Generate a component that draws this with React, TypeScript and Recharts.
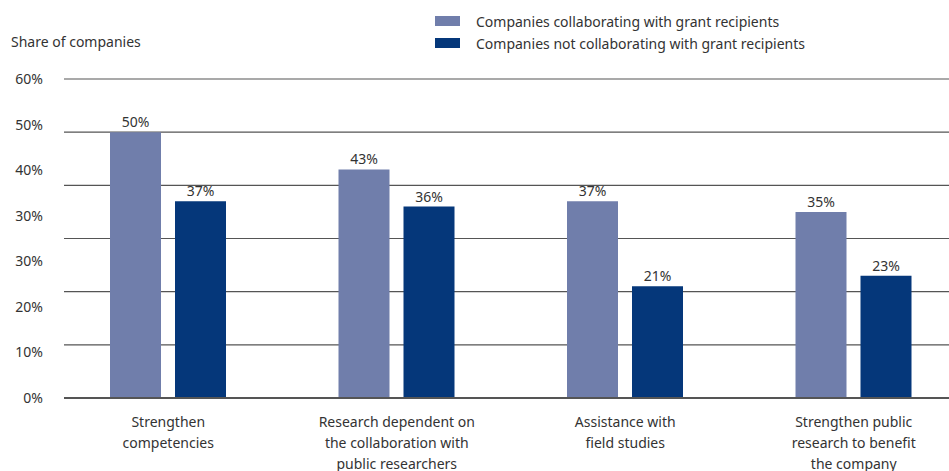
import React from "react";
import {
  BarChart,
  Bar,
  XAxis,
  YAxis,
  CartesianGrid,
  LabelList,
} from "recharts";

// categories (line breaks kept as in the figure)
const categories = [
  "Strengthen\ncompetencies",
  "Research dependent on\nthe collaboration with\npublic researchers",
  "Assistance with\nfield studies",
  "Strengthen public\nresearch to benefit\nthe company",
];

const collaborating = [50, 43, 37, 35];
const notCollaborating = [37, 36, 21, 23];

// the printed axis labels (as they appear in the source, incl. the repeated 30%)
const yTickLabels = ["0%", "10%", "20%", "30%", "30%", "40%", "50%", "60%"];
const gridTicks = [0, 10, 20, 30, 40, 50, 60];

const seriesNames = [
  "Companies collaborating with grant recipients",
  "Companies not collaborating with grant recipients",
];
const LIGHT = "#707eab";
const DARK = "#05377a";
const TEXT = "#333333";
const FONT = "'Noto Sans', sans-serif";

const data = categories.map((name, i) => ({
  name,
  collab: collaborating[i],
  notCollab: notCollaborating[i],
}));

const CategoryTick = (props: any) => {
  const { x, payload } = props;
  const lines = String(payload.value).split("\n");
  return (
    <text
      x={x}
      y={0}
      textAnchor="middle"
      fill={TEXT}
      fontSize={14}
      fontFamily={FONT}
    >
      {lines.map((line, i) => (
        <tspan key={i} x={x} y={427 + i * 21}>
          {line}
        </tspan>
      ))}
    </text>
  );
};

const LabelTick = (props: any) => {
  const { y, payload } = props;
  return (
    <text
      x={43}
      y={y}
      dy={5}
      textAnchor="end"
      fill={TEXT}
      fontSize={14}
      fontFamily={FONT}
    >
      {yTickLabels[payload.value]}
    </text>
  );
};

export default function App() {
  return (
    <div
      style={{
        position: "absolute",
        left: 0,
        top: 0,
        width: 949,
        height: 471,
        overflow: "hidden",
        background: "#fff",
        fontFamily: FONT,
      }}
    >
      <div
        style={{
          position: "absolute",
          left: 11,
          top: 32,
          fontSize: 14,
          color: TEXT,
        }}
      >
        Share of companies
      </div>

      {/* legend */}
      <div
        style={{
          position: "absolute",
          left: 435,
          top: 10,
          fontSize: 14,
          color: TEXT,
        }}
      >
        {seriesNames.map((s, i) => (
          <div
            key={s}
            style={{ display: "flex", alignItems: "center", height: 22 }}
          >
            <span
              style={{
                display: "inline-block",
                width: 25,
                height: 10,
                background: i === 0 ? LIGHT : DARK,
                marginRight: 16,
              }}
            />
            {s}
          </div>
        ))}
      </div>

      <div style={{ position: "absolute", left: 0, top: 0 }}>
        <BarChart
          width={968}
          height={471}
          data={data}
          margin={{ top: 79, right: 0, bottom: 0, left: 0 }}
          barSize={51}
          barGap={14}
        >
          <CartesianGrid
            vertical={false}
            stroke="#555"
            strokeWidth={1.2}
            yAxisId={0}
          />
          <XAxis
            dataKey="name"
            height={73}
            padding={{ left: -10, right: 0 }}
            tickLine={false}
            axisLine={{ stroke: "#555", strokeWidth: 2 }}
            tick={<CategoryTick />}
            interval={0}
          />
          <YAxis
            yAxisId={0}
            hide
            type="number"
            domain={[0, 60]}
            ticks={gridTicks}
            allowDataOverflow
          />
          <YAxis
            yAxisId="lab"
            type="number"
            domain={[0, 7]}
            ticks={[0, 1, 2, 3, 4, 5, 6, 7]}
            width={64}
            axisLine={false}
            tickLine={false}
            tick={<LabelTick />}
            allowDataOverflow
          />
          <Bar dataKey="collab" fill={LIGHT} isAnimationActive={false}>
            <LabelList
              dataKey="collab"
              position="top"
              formatter={(v: any) => `${v}%`}
              fill={TEXT}
              fontSize={14}
              fontFamily={FONT}
            />
          </Bar>
          <Bar dataKey="notCollab" fill={DARK} isAnimationActive={false}>
            <LabelList
              dataKey="notCollab"
              position="top"
              formatter={(v: any) => `${v}%`}
              fill={TEXT}
              fontSize={14}
              fontFamily={FONT}
            />
          </Bar>
        </BarChart>
      </div>
    </div>
  );
}
